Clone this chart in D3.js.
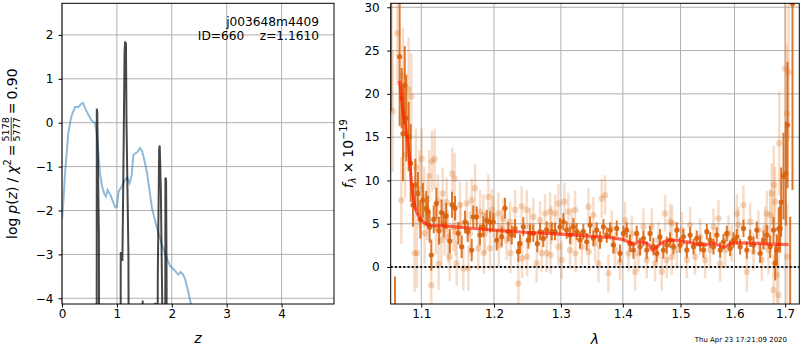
<!DOCTYPE html>
<html>
<head>
<meta charset="utf-8">
<script src="https://cdn.jsdelivr.net/npm/d3@7"></script>
<style>
    body { margin: 0; background: #fff; }
    svg text { font-family: "DejaVu Sans", sans-serif; fill: #000; }
</style>
</head>
<body>
<svg id="chart" width="800" height="350"></svg>
<script>
// ---- left panel: log p(z) ----
const pzZ = [0, 0.03, 0.055, 0.085, 0.115, 0.15, 0.18, 0.24, 0.30, 0.34, 0.38, 0.42, 0.44, 0.48, 0.51, 0.54, 0.57, 0.60, 0.63, 0.66, 0.69, 0.73, 0.77, 0.80, 0.83, 0.88, 0.94, 0.97, 1.00, 1.03, 1.09, 1.15, 1.19, 1.23, 1.25, 1.27, 1.30, 1.34, 1.38, 1.42, 1.46, 1.50, 1.55, 1.60, 1.64, 1.73, 1.82, 1.91, 1.97, 2.05, 2.09, 2.12, 2.16, 2.20, 2.24, 2.30, 2.36];
const pzLogP = [-2.2, -1.7, -1.15, -0.7, -0.24, 0.02, 0.18, 0.36, 0.36, 0.42, 0.45, 0.34, 0.28, 0.18, 0.12, 0.05, 0.02, 0.0, -0.2, -0.65, -1.14, -1.45, -1.62, -1.68, -1.53, -1.64, -1.83, -1.93, -1.91, -1.57, -1.45, -1.30, -1.25, -1.38, -1.30, -1.19, -0.73, -0.70, -0.66, -0.58, -0.65, -0.85, -1.15, -1.6, -1.95, -2.4, -2.78, -3.09, -3.26, -3.36, -3.42, -3.46, -3.40, -3.45, -3.55, -3.85, -4.2];

const peakZ = [0.60, 0.631, 0.634, 0.642, 0.672, 0.680, 1.068, 1.070, 1.085, 1.100, 1.115, 1.140, 1.150, 1.165, 1.175, 1.210, 1.222, 1.465, 1.470, 1.475, 1.695, 1.700, 1.705, 1.740, 1.745, 1.770, 1.780, 1.800, 1.825, 1.832, 1.878, 1.884, 1.896, 1.905, 1.912, 2.0];
const peakLogP = [-8, -8, 0.32, 0.25, -2.5, -8, -8, -2.95, -3.0, -3.15, -1.5, 1.6, 1.85, 1.8, 0.0, -3.0, -8, -8, -4.05, -8, -8, -4.1, -8, -8, -3.5, -0.6, -0.52, -1.5, -4.0, -8, -8, -1.25, -1.3, -3.5, -8, -8];

const zTicks = [0, 1, 2, 3, 4];
const logpTicks = [-4, -3, -2, -1, 0, 1, 2];

// ---- right panel: spectrum ----
const darkWave = [1.0612, 1.0660, 1.0719, 1.0745, 1.0762, 1.0785, 1.0805, 1.0835, 1.0862, 1.0891, 1.0922, 1.0956, 1.0988, 1.1022, 1.1066, 1.1088, 1.1110, 1.1133, 1.1165, 1.1200, 1.1235, 1.1270, 1.1300, 1.1332, 1.1382, 1.1412, 1.1453, 1.1498, 1.1545, 1.1590, 1.1628, 1.1684, 1.1706, 1.1754, 1.1800, 1.1847, 1.1896, 1.1943, 1.1990, 1.2039, 1.2111, 1.2159, 1.2207, 1.2257, 1.2305, 1.2354, 1.2379, 1.2428, 1.2503, 1.2528, 1.2578, 1.2638, 1.2680, 1.2729, 1.2781, 1.2858, 1.2909, 1.2986, 1.3038, 1.3090, 1.3143, 1.3195, 1.3248, 1.3301, 1.3354, 1.3408, 1.3461, 1.3515, 1.3569, 1.3623, 1.3678, 1.3733, 1.3788, 1.3843, 1.3898, 1.3953, 1.4009, 1.4065, 1.4121, 1.4178, 1.4234, 1.4291, 1.4349, 1.4406, 1.4463, 1.4521, 1.4579, 1.4637, 1.4696, 1.4755, 1.4814, 1.4873, 1.4933, 1.4992, 1.5052, 1.5113, 1.5173, 1.5234, 1.5294, 1.5356, 1.5417, 1.5479, 1.5540, 1.5603, 1.5665, 1.5728, 1.5790, 1.5854, 1.5917, 1.5981, 1.6044, 1.6109, 1.6173, 1.6238, 1.6303, 1.6368, 1.6433, 1.6499, 1.6565, 1.6631, 1.6698, 1.6764, 1.6798, 1.6831, 1.6870, 1.6899, 1.6919, 1.6966, 1.7014, 1.7049, 1.7102, 1.7150];
const darkFlux = [34, -9, 24.3, 19.5, 15.4, 21.0, 17.2, 15.05, 12.0, 7.16, 9.5, 8.5, 5.5, 7.7, 6.77, 6.39, 4.6, 1.38, 5.5, 7.35, 4.2, 6.3, 4.9, 5.9, 3.0, 7.2, 6.8, 3.9, 2.35, 5.2, 4.1, 1.96, 5.8, 5.8, 3.7, 4.65, 5.4, 5.2, 5.2, 3.1, 3.5, 6.8, 4.1, 3.7, 4.45, 1.77, 2.7, 4.65, 3.1, 3.9, 3.9, 2.7, 4.1, 3.3, 4.3, 4.1, 4.1, 4.65, 5.23, 4.27, 3.69, 4.65, 4.08, 3.12, 4.08, 2.92, 4.85, 3.31, 4.27, 3.12, 4.65, 3.69, 4.27, 2.54, 4.46, 1.58, 3.88, 4.27, 2.73, 1.96, 3.88, 2.35, 3.31, 1.96, 3.88, 2.35, 1.58, 3.5, 1.96, 2.54, 3.12, 2.35, 4.27, 2.54, 3.5, 1.96, 3.69, 2.35, 3.31, 2.73, 1.96, 4.08, 3.12, 2.35, 3.69, 1.96, 2.92, 3.88, 2.15, 3.12, 3.5, 2.35, 4.46, 1.96, 3.31, 2.54, 4.27, 1.58, 3.12, 3.69, 2.35, 4.27, 0.45, 1.96, 4.4, 4.46, 7.5, 10.5, 10.8, 16.4, -8, 30.4];
const darkErr = [16, 7.9, 8, 3.5, 5.5, 4.5, 5.0, 4.0, 4.5, 2.5, 3.0, 2.5, 2.2, 2.0, 2.0, 1.8, 1.8, 1.8, 1.6, 1.8, 1.6, 1.5, 1.5, 1.5, 1.4, 1.5, 1.4, 1.3, 1.3, 1.3, 1.2, 1.3, 1.3, 1.2, 1.2, 1.2, 1.2, 1.2, 1.1, 1.2, 1.1, 1.2, 1.1, 1.1, 1.1, 1.2, 1.1, 1.1, 1.0, 1.0, 1.0, 1.0, 1.0, 1.0, 1.0, 1.0, 1.0, 1.0, 1.0, 1.0, 1.0, 1.0, 1.0, 1.0, 0.9, 1.0, 1.0, 0.9, 0.9, 1.0, 0.9, 0.9, 0.9, 1.0, 0.9, 1.0, 0.9, 0.9, 1.0, 1.0, 0.9, 1.0, 0.9, 1.0, 0.9, 1.0, 1.0, 0.9, 1.0, 1.0, 0.9, 0.9, 0.9, 0.9, 0.9, 0.9, 0.9, 0.9, 0.9, 0.9, 0.9, 0.9, 0.9, 0.9, 0.9, 0.9, 0.9, 0.9, 0.9, 0.9, 0.9, 0.9, 1.0, 1.0, 1.0, 1.0, 1.0, 1.1, 1.1, 1.2, 1.3, 1.5, 2.0, 1.8, 2.5, 2.8, 4.0, 5.0, 6.0, 7.3, 13.8, 21.5];

const lightWave = [1.0630, 1.0690, 1.0740, 1.0762, 1.0790, 1.0835, 1.0869, 1.0913, 1.0930, 1.0943, 1.0975, 1.1005, 1.1036, 1.1044, 1.1080, 1.1105, 1.1133, 1.1142, 1.1177, 1.1195, 1.1222, 1.1231, 1.1267, 1.1285, 1.1312, 1.1339, 1.1357, 1.1380, 1.1416, 1.1431, 1.1448, 1.1460, 1.1476, 1.1522, 1.1530, 1.1568, 1.1614, 1.1637, 1.1660, 1.1684, 1.1730, 1.1777, 1.1801, 1.1848, 1.1855, 1.1872, 1.1919, 1.1943, 1.1967, 1.1990, 1.2062, 1.2070, 1.2111, 1.2135, 1.2183, 1.2232, 1.2240, 1.2306, 1.2355, 1.2404, 1.2410, 1.2479, 1.2485, 1.2529, 1.2579, 1.2629, 1.2680, 1.2705, 1.2756, 1.2781, 1.2833, 1.2840, 1.2850, 1.2910, 1.2960, 1.2961, 1.3012, 1.3054, 1.3117, 1.3143, 1.3169, 1.3222, 1.3230, 1.3328, 1.3434, 1.3440, 1.3515, 1.3542, 1.3596, 1.3650, 1.3705, 1.3760, 1.3815, 1.3870, 1.3953, 1.4037, 1.4093, 1.4150, 1.4206, 1.4263, 1.4349, 1.4406, 1.4492, 1.4550, 1.4608, 1.4667, 1.4726, 1.4755, 1.4814, 1.4844, 1.4850, 1.4933, 1.5022, 1.5113, 1.5173, 1.5264, 1.5356, 1.5448, 1.5540, 1.5603, 1.5696, 1.5728, 1.5822, 1.5885, 1.5949, 1.6044, 1.6076, 1.6173, 1.6238, 1.6303, 1.6368, 1.6466, 1.6532, 1.6598, 1.6631, 1.6664, 1.6698, 1.6731, 1.6764, 1.6770, 1.6797, 1.6831, 1.6865, 1.6880, 1.7001, 1.7035, 1.7040, 1.7069];
const lightFlux = [18.0, 27.0, 7.7, 22.1, 13.0, 20.5, 19.7, 1.6, 11.5, 1.6, 9.0, 12.5, 8.1, 3.9, 6.6, 10.5, -2.1, 12.2, 12.5, 4.5, 7.7, 0.35, 3.1, 8.5, 4.3, 7.5, 3.5, 1.2, 10.8, 4.65, 10.2, 4.1, 0.4, 7.2, 4.85, -0.15, 7.35, -0.15, 3.9, 7.7, 9.1, 2.15, 6.4, 6.0, 1.6, 3.9, 8.1, 2.15, 6.6, 5.8, 6.2, 2.5, 4.5, 5.6, 3.1, 5.2, 1.6, 6.6, -1.9, 7.0, 1.0, 6.6, 1.2, 4.65, 5.8, 0.4, 5.4, 1.6, 6.2, 1.6, 6.4, 1.4, 4.85, 6.2, 2.35, 7.35, 0.81, 7.54, 6.38, 1.96, 4.65, 6.58, 1.58, 2.35, 6.96, 1.77, 6.0, 2.73, 0.42, 7.92, 8.31, -0.73, 4.46, 1.96, 0.62, 5.42, 1.58, 3.88, -0.54, 1.58, 4.65, 0.81, 4.65, 0.42, 3.12, -0.54, 6.19, 0.81, 5.23, 1.19, 5.04, 1.96, 4.27, 0.81, 4.85, 1.19, 3.5, 0.81, 1.96, 4.65, 5.62, 0.42, 1.96, 3.88, 2.73, 6.19, 4.85, 7.15, -0.54, 5.23, 1.77, 4.27, 0.81, 4.46, 6.19, 1.96, 6.0, 8.5, -2.65, 9.5, 7.54, -0.92, -3.23, 14.3, 22.9, 17.7, 1.2, 22.5];
const lightErr = [7, 6, 5, 5.5, 5, 6, 5, 4.5, 4.5, 4, 4.5, 3.5, 3.5, 3.5, 3.5, 3, 3, 3.5, 3.5, 3, 3, 3, 3, 3, 3, 2.8, 3, 2.8, 3, 2.8, 3, 2.8, 2.6, 2.6, 2.5, 2.6, 2.5, 2.6, 2.5, 2.5, 2.8, 2.5, 2.5, 2.4, 2.4, 2.4, 2.6, 2.4, 2.4, 2.4, 2.4, 2.4, 2.3, 2.3, 2.3, 2.3, 2.3, 2.3, 2.5, 2.3, 2.3, 2.3, 2.3, 2.2, 2.2, 2.2, 2.2, 2.2, 2.2, 2.2, 2.2, 2.2, 2.2, 2.2, 2.2, 2.2, 2.2, 2.2, 2.2, 2.2, 2.1, 2.2, 2.2, 2.1, 2.2, 2.2, 2.1, 2.1, 2.2, 2.3, 2.3, 2.2, 2.1, 2.1, 2.1, 2.1, 2.1, 2.1, 2.2, 2.1, 2.1, 2.1, 2.1, 2.1, 2.1, 2.2, 2.1, 2.1, 2.1, 2.1, 2.1, 2.1, 2.1, 2.1, 2.1, 2.1, 2.1, 2.1, 2.1, 2.1, 2.1, 2.1, 2.1, 2.1, 2.1, 2.2, 2.1, 2.3, 2.3, 2.2, 2.2, 2.3, 2.4, 2.5, 2.6, 2.8, 3.0, 3.5, 4, 4.5, 4, 4.5, 5, 6, 8, 8, 6, 8];

const modelWave = [1.0719, 1.0762, 1.0805, 1.0849, 1.0869, 1.0891, 1.0928, 1.0960, 1.1000, 1.1060, 1.1133, 1.125, 1.1448, 1.171, 1.218, 1.258, 1.299, 1.350, 1.398, 1.410, 1.418, 1.426, 1.438, 1.445, 1.450, 1.455, 1.461, 1.473, 1.490, 1.511, 1.542, 1.560, 1.579, 1.598, 1.637, 1.670, 1.707];
const modelFlux = [21.5, 18.1, 15.4, 12.4, 10.0, 8.3, 6.6, 5.9, 5.4, 5.0, 4.8, 4.75, 4.65, 4.45, 4.15, 3.95, 3.8, 3.55, 3.2, 2.9, 2.6, 2.9, 2.8, 2.5, 1.95, 2.1, 2.5, 3.0, 3.1, 2.9, 2.55, 2.75, 2.3, 2.8, 2.75, 2.65, 2.6];

const waveTicks = [1.1, 1.2, 1.3, 1.4, 1.5, 1.6, 1.7];
const fluxTicks = [0, 5, 10, 15, 20, 25, 30];

const svg = d3.select("#chart");
const orange = "#d9620a";
const tickFont = "12px";

// Helper: math-like label built from pieces, measured one at a time
function mathLabel(g, parts, size) {
    let x = 0;
    parts.forEach(p => {
        if (p.gap) { x += p.gap; return; }
        if (p.frac) {
            const fs = size * 0.68;
            const num = g.append("text").attr("y", -7.6).style("font-size", fs + "px").text(p.frac[0]);
            const den = g.append("text").attr("y", 3.2).style("font-size", fs + "px").text(p.frac[1]);
            const w = Math.max(num.node().getComputedTextLength(), den.node().getComputedTextLength());
            num.attr("x", x + (w - num.node().getComputedTextLength()) / 2);
            den.attr("x", x + (w - den.node().getComputedTextLength()) / 2);
            g.append("line").attr("x1", x).attr("x2", x + w).attr("y1", -5.3).attr("y2", -5.3)
                .attr("stroke", "#000").attr("stroke-width", 0.8);
            x += w;
            return;
        }
        let fs = size, dy = 0;
        if (p.sup) { fs = size * 0.7; dy = -6; }
        if (p.sub) { fs = size * 0.7; dy = 3; }
        const t = g.append("text").attr("x", x).attr("y", dy)
            .style("font-size", fs + "px")
            .style("font-style", p.i ? "italic" : "normal")
            .text(p.t);
        x += t.node().getComputedTextLength();
    });
    return x;
}

// =================== LEFT PANEL ===================
const L = { x0: 62, x1: 334, y0: 3.3, y1: 304 };
const xz = d3.scaleLinear().domain([0, 4.955]).range([L.x0, L.x1]);
const yp = d3.scaleLinear().domain([-4.13, 2.72]).range([L.y1, L.y0]);

svg.append("clipPath").attr("id", "clipL").append("rect")
    .attr("x", L.x0).attr("y", L.y0).attr("width", L.x1 - L.x0).attr("height", L.y1 - L.y0);

const gl = svg.append("g");
gl.selectAll(".vg").data(zTicks).enter().append("line")
    .attr("x1", d => xz(d)).attr("x2", d => xz(d)).attr("y1", L.y0).attr("y2", L.y1)
    .attr("stroke", "#b0b0b0").attr("stroke-width", 1);
gl.selectAll(".hg").data(logpTicks).enter().append("line")
    .attr("x1", L.x0).attr("x2", L.x1).attr("y1", d => yp(d)).attr("y2", d => yp(d))
    .attr("stroke", "#b0b0b0").attr("stroke-width", 1);

const plotL = gl.append("g").attr("clip-path", "url(#clipL)");
plotL.append("path")
    .datum(pzZ.map((z, i) => [z, pzLogP[i]]))
    .attr("d", d3.line().x(d => xz(d[0])).y(d => yp(d[1])))
    .attr("fill", "none").attr("stroke", "#1f77b4").attr("stroke-opacity", 0.5).attr("stroke-width", 2);
plotL.append("path")
    .datum(peakZ.map((z, i) => [z, peakLogP[i]]))
    .attr("d", d3.line().x(d => xz(d[0])).y(d => yp(d[1])))
    .attr("fill", "none").attr("stroke", "#000").attr("stroke-opacity", 0.72).attr("stroke-width", 2);

gl.append("rect").attr("x", L.x0).attr("y", L.y0).attr("width", L.x1 - L.x0).attr("height", L.y1 - L.y0)
    .attr("fill", "none").attr("stroke", "#000").attr("stroke-width", 1);

const axZ = gl.append("g").attr("transform", `translate(0,${L.y1})`)
    .call(d3.axisBottom(xz).tickValues(zTicks).tickSize(3.5).tickPadding(1.5).tickFormat(d3.format("d")));
const axP = gl.append("g").attr("transform", `translate(${L.x0},0)`)
    .call(d3.axisLeft(yp).tickValues(logpTicks).tickSize(3.5).tickPadding(5).tickFormat(d3.format("d")));
[axZ, axP].forEach(a => {
    a.select(".domain").remove();
    a.selectAll("text").style("font-size", tickFont).attr("fill", "#000");
    a.selectAll("line").attr("stroke", "#000");
});

gl.append("text").attr("x", 319).attr("y", 25.5).attr("text-anchor", "end")
    .style("font-size", "12.2px").text("j003648m4409");
gl.append("text").attr("x", 319).attr("y", 39.5).attr("text-anchor", "end")
    .style("font-size", "12.2px").style("white-space", "pre").text("ID=660    z=1.1610");

gl.append("text").attr("x", (L.x0 + L.x1) / 2).attr("y", 343).attr("text-anchor", "middle")
    .style("font-size", "14px").style("font-style", "italic").text("z");

const ylabL = gl.append("g");
const wL = mathLabel(ylabL, [
    { t: "log" }, { gap: 4 }, { t: "p", i: 1 }, { t: "(" }, { t: "z", i: 1 }, { t: ")" },
    { gap: 4 }, { t: "/" }, { gap: 4 }, { t: "χ", i: 1 }, { t: "2", sup: 1 },
    { gap: 3 }, { t: "=" }, { gap: 3 }, { frac: ["5178", "5777"] }, { gap: 3 }, { t: "=" }, { gap: 3 }, { t: "0.90" }
], 14);
ylabL.attr("transform", `translate(16.5,${(L.y0 + L.y1) / 2}) rotate(-90) translate(${-wL / 2},0)`);

// =================== RIGHT PANEL ===================
const R = { x0: 390.7, x1: 799.3, y0: 3.3, y1: 304 };
const xw = d3.scaleLog().domain([1.0605, 1.729]).range([R.x0, R.x1]);
const yf = d3.scaleLinear().domain([-4.27, 30.46]).range([R.y1, R.y0]);

svg.append("clipPath").attr("id", "clipR").append("rect")
    .attr("x", R.x0).attr("y", R.y0).attr("width", R.x1 - R.x0).attr("height", R.y1 - R.y0);

const gr = svg.append("g");
gr.selectAll(".vg").data(waveTicks).enter().append("line")
    .attr("x1", d => xw(d)).attr("x2", d => xw(d)).attr("y1", R.y0).attr("y2", R.y1)
    .attr("stroke", "#b0b0b0").attr("stroke-width", 1);
gr.selectAll(".hg").data(fluxTicks).enter().append("line")
    .attr("x1", R.x0).attr("x2", R.x1).attr("y1", d => yf(d)).attr("y2", d => yf(d))
    .attr("stroke", "#b0b0b0").attr("stroke-width", 1);

const plotR = gr.append("g").attr("clip-path", "url(#clipR)");

const light = lightWave.map((w, i) => ({ w, f: lightFlux[i], e: lightErr[i] }));
const dark = darkWave.map((w, i) => ({ w, f: darkFlux[i], e: darkErr[i] }));

plotR.selectAll(".lbar").data(light).enter().append("line")
    .attr("x1", d => xw(d.w)).attr("x2", d => xw(d.w))
    .attr("y1", d => yf(d.f - d.e)).attr("y2", d => yf(d.f + d.e))
    .attr("stroke", orange).attr("stroke-opacity", 0.22).attr("stroke-width", 2.5);
plotR.selectAll(".ldot").data(light).enter().append("circle")
    .attr("cx", d => xw(d.w)).attr("cy", d => yf(d.f)).attr("r", 3.2)
    .attr("fill", orange).attr("fill-opacity", 0.25);

plotR.selectAll(".dbar").data(dark).enter().append("line")
    .attr("x1", d => xw(d.w)).attr("x2", d => xw(d.w))
    .attr("y1", d => yf(d.f - d.e)).attr("y2", d => yf(d.f + d.e))
    .attr("stroke", orange).attr("stroke-opacity", 0.85).attr("stroke-width", 2);
plotR.selectAll(".ddot").data(dark).enter().append("circle")
    .attr("cx", d => xw(d.w)).attr("cy", d => yf(d.f)).attr("r", 2.6)
    .attr("fill", orange).attr("fill-opacity", 0.9);

plotR.append("path")
    .datum(modelWave.map((w, i) => [w, modelFlux[i]]))
    .attr("d", d3.line().curve(d3.curveMonotoneX).x(d => xw(d[0])).y(d => yf(d[1])))
    .attr("fill", "none").attr("stroke", "#ff1a00").attr("stroke-opacity", 0.65).attr("stroke-width", 3.2);

plotR.append("line")
    .attr("x1", R.x0).attr("x2", R.x1).attr("y1", yf(0)).attr("y2", yf(0))
    .attr("stroke", "#111").attr("stroke-width", 2).attr("stroke-dasharray", "2,2.2");

gr.append("rect").attr("x", R.x0).attr("y", R.y0).attr("width", R.x1 - R.x0).attr("height", R.y1 - R.y0)
    .attr("fill", "none").attr("stroke", "#000").attr("stroke-width", 1);

const axW = gr.append("g").attr("transform", `translate(0,${R.y1})`)
    .call(d3.axisBottom(xw).tickValues(waveTicks).tickSize(3.5).tickPadding(1.5).tickFormat(d3.format(".1f")));
const axF = gr.append("g").attr("transform", `translate(${R.x0},0)`)
    .call(d3.axisLeft(yf).tickValues(fluxTicks).tickSize(3.5).tickPadding(7.5).tickFormat(d3.format("d")));
[axW, axF].forEach(a => {
    a.select(".domain").remove();
    a.selectAll("text").style("font-size", tickFont).attr("fill", "#000");
    a.selectAll("line").attr("stroke", "#000");
});

gr.append("text").attr("x", (R.x0 + R.x1) / 2).attr("y", 344).attr("text-anchor", "middle")
    .style("font-size", "14px").style("font-style", "italic").text("λ");

const ylabR = gr.append("g");
const wR = mathLabel(ylabR, [
    { t: "f", i: 1 }, { t: "λ", sub: 1, i: 1 }, { gap: 4 }, { t: "×" }, { gap: 4 }, { t: "10" }, { t: "−19", sup: 1 }
], 14);
ylabR.attr("transform", `translate(352.5,${(R.y0 + R.y1) / 2}) rotate(-90) translate(${-wR / 2},0)`);

svg.append("text").attr("x", 787).attr("y", 342).attr("text-anchor", "end")
    .style("font-size", "7px").attr("fill", "#222").text("Thu Apr 23 17:21:09 2020");
</script>
</body>
</html>
